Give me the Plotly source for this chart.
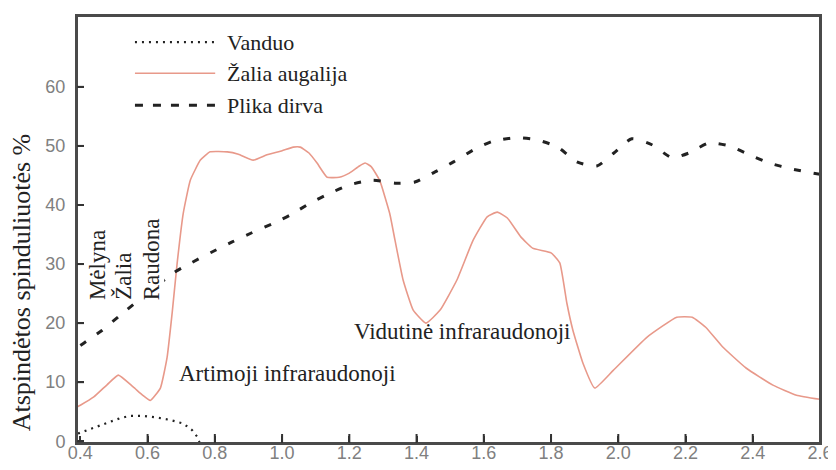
import plotly.graph_objects as go

# Wavelength (µm) and reflectance (%)
water_x = [0.393, 0.438, 0.479, 0.518, 0.548, 0.586, 0.628, 0.667, 0.706, 0.732, 0.747, 0.755]
water_y = [1.3, 2.2, 3.0, 3.9, 4.3, 4.3, 4.0, 3.6, 3.0, 1.9, 0.8, -0.3]

veg_x = [0.39, 0.40, 0.44, 0.48, 0.513, 0.557, 0.585, 0.608, 0.638, 0.658, 0.673, 0.688,
         0.706, 0.727, 0.757, 0.786, 0.837, 0.87, 0.914, 0.955, 1.0, 1.033, 1.054, 1.08,
         1.104, 1.134, 1.17, 1.2, 1.23, 1.247, 1.265, 1.29, 1.32, 1.336, 1.36, 1.39,
         1.428, 1.47, 1.52, 1.568, 1.61, 1.64, 1.67, 1.71, 1.745, 1.8, 1.826, 1.847,
         1.865, 1.895, 1.93, 1.985, 2.085, 2.174, 2.22, 2.26, 2.31, 2.38, 2.46, 2.53, 2.6]
veg_y = [5.8, 6.1, 7.5, 9.6, 11.2, 9.2, 7.8, 6.9, 9.0, 14.2, 21.7, 30.2,
         38.6, 44.2, 47.6, 49.0, 49.0, 48.6, 47.6, 48.5, 49.2, 49.8, 49.8, 48.8,
         47.1, 44.7, 44.7, 45.4, 46.6, 47.1, 46.5, 44.2, 38.6, 34.0, 27.3, 22.2,
         20.0, 22.2, 27.3, 34.0, 38.0, 38.8, 37.8, 34.6, 32.7, 31.9, 30.2, 23.4,
         18.8, 13.2, 9.0, 12.0, 17.6, 21.0, 21.0, 19.3, 16.0, 12.4, 9.5, 7.8, 7.1]

soil_x = [0.40, 0.41, 0.465, 0.52, 0.677, 0.733, 0.79, 0.85, 0.91, 0.97, 1.024, 1.083,
          1.143, 1.2, 1.27, 1.336, 1.395, 1.455, 1.51, 1.568, 1.627, 1.696, 1.76, 1.82,
          1.877, 1.936, 1.987, 2.04, 2.1, 2.16, 2.21, 2.27, 2.33, 2.39, 2.45, 2.515, 2.58, 2.6]
soil_y = [16.2, 16.6, 18.8, 21.4, 28.5, 30.3, 32.0, 33.7, 35.3, 36.8, 38.3, 40.3,
          42.0, 43.4, 44.2, 43.7, 43.9, 45.6, 47.3, 49.3, 50.8, 51.4, 51.0, 49.8,
          47.3, 46.6, 48.8, 51.2, 50.2, 48.0, 48.8, 50.5, 50.0, 48.5, 47.1, 46.1, 45.4, 45.2]

x_ticks = [0.4, 0.6, 0.8, 1.0, 1.2, 1.4, 1.6, 1.8, 2.0, 2.2, 2.4, 2.6]
x_ticklabels = ["0.4", "0.6", "0.8", "1.0", "1.2", "1.4", "1.6", "1.8", "2.0", "2.2", "2.4", "2.6"]
y_ticks = [0, 10, 20, 30, 40, 50, 60]
y_ticklabels = ["0", "10", "20", "30", "40", "50", "60"]

series_names = ["Vanduo", "Žalia augalija", "Plika dirva"]

VEG = "#E8998A"
DARK = "#222222"
FRAME = "#4a4a4a"
SERIF = "Liberation Serif"
SANS = "Liberation Sans"

fig = go.Figure()
fig.add_trace(go.Scatter(x=water_x, y=water_y, mode="lines", name=series_names[0],
                         line=dict(color=DARK, width=2.2, dash="2px,5px"), showlegend=False))
fig.add_trace(go.Scatter(x=veg_x, y=veg_y, mode="lines", name=series_names[1],
                         line=dict(color=VEG, width=1.6, shape="spline", smoothing=0.4),
                         showlegend=False))
fig.add_trace(go.Scatter(x=soil_x, y=soil_y, mode="lines", name=series_names[2],
                         line=dict(color=DARK, width=3, dash="7px,13px", shape="spline", smoothing=0.6),
                         showlegend=False))

# Plot frame
shapes = [dict(type="rect", xref="paper", yref="paper", x0=0, x1=1, y0=0, y1=1,
               line=dict(color=FRAME, width=2), layer="above")]

# Inward tick marks placed at the axis tick values
for v in x_ticks[1:-1]:
    shapes.append(dict(type="line", xref="x", yref="paper", x0=v, x1=v, y0=0, y1=9 / 427,
                       line=dict(color="#333333", width=2), layer="above"))
for v in y_ticks:
    shapes.append(dict(type="line", xref="paper", yref="y", x0=0, x1=7 / 743, y0=v, y1=v,
                       line=dict(color="#333333", width=2), layer="above"))

# Custom legend (long line samples as in the reference)
leg_y = [0.939, 0.866, 0.791]
leg_styles = [dict(color=DARK, width=2.2, dash="2px,5px"),
              dict(color=VEG, width=1.6),
              dict(color=DARK, width=3, dash="8px,10px")]
annotations = []
for name, yy, st in zip(series_names, leg_y, leg_styles):
    shapes.append(dict(type="line", xref="paper", yref="paper", x0=0.078, x1=0.186,
                       y0=yy, y1=yy, line=st))
    annotations.append(dict(xref="paper", yref="paper", x=0.199, y=yy, text=name,
                            showarrow=False, xanchor="left", yanchor="middle",
                            font=dict(family=SERIF, size=22, color="#222")))

# Region labels
for txt, xx in [("Mėlyna", 0.449), ("Žalia", 0.530), ("Raudona", 0.610)]:
    annotations.append(dict(x=xx, y=23.7, text=txt, textangle=-90, showarrow=False,
                            xanchor="center", yanchor="bottom", bgcolor="white",
                            borderpad=0, font=dict(family=SERIF, size=23, color="#222")))
annotations.append(dict(x=0.687, y=11.5, text="Artimoji infraraudonoji", showarrow=False,
                        xanchor="left", yanchor="middle",
                        font=dict(family=SERIF, size=23, color="#222")))
annotations.append(dict(x=1.208, y=18.5, text="Vidutinė infraraudonoji", showarrow=False,
                        xanchor="left", yanchor="middle",
                        font=dict(family=SERIF, size=23, color="#222")))
annotations.append(dict(xref="paper", yref="paper", x=-0.075, y=0.377,
                        text="Atspindėtos spinduliuotės %", textangle=-90, showarrow=False,
                        xanchor="center", yanchor="middle",
                        font=dict(family=SERIF, size=26, color="#222")))

# The page body adds an 8px offset, so the figure is sized to fill the 836x470 view.
fig.update_layout(
    template="none",
    width=828, height=462,
    margin=dict(l=69, r=16, t=8, b=27),
    plot_bgcolor="white", paper_bgcolor="white",
    shapes=shapes, annotations=annotations,
    xaxis=dict(range=[0.39, 2.6], tickmode="array", tickvals=x_ticks, ticktext=x_ticklabels,
               showgrid=False, zeroline=False, showline=True, mirror=True, automargin=False,
               linecolor=FRAME, linewidth=2, ticks="inside", ticklen=7,
               tickcolor="#333333", tickwidth=2, ticklabelstandoff=-8,
               tickfont=dict(family=SANS, size=18, color="#808080")),
    yaxis=dict(range=[-0.3, 72], tickmode="array", tickvals=y_ticks, ticktext=y_ticklabels,
               showgrid=False, zeroline=False, showline=True, mirror=True, automargin=False,
               linecolor=FRAME, linewidth=2, ticks="inside", ticklen=7,
               tickcolor="#333333", tickwidth=2, ticklabelstandoff=6,
               tickfont=dict(family=SANS, size=18, color="#808080")),
)

fig.write_html("out.html")
